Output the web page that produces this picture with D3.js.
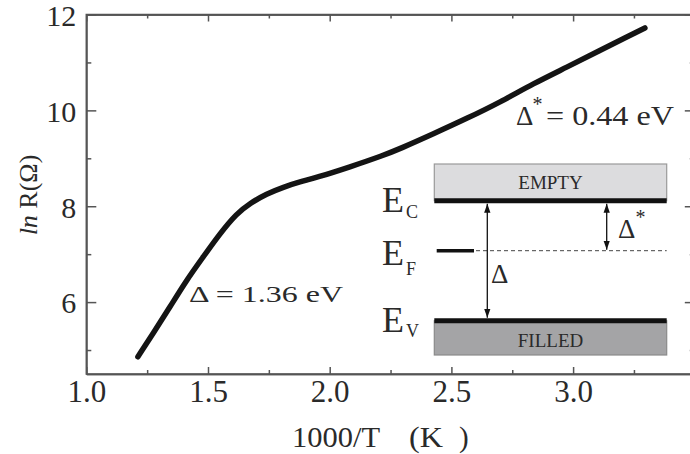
<!DOCTYPE html>
<html>
<head>
<meta charset="utf-8">
<script src="https://cdn.jsdelivr.net/npm/d3@7/dist/d3.min.js"></script>
<style>
  html, body { margin: 0; padding: 0; background: #fff; }
  svg { display: block; }
  text { font-family: "Liberation Serif", "DejaVu Serif", serif; fill: #2a2a2a; }
</style>
</head>
<body>
<svg id="chart" width="690" height="454"></svg>
<script>
// Resistance vs inverse temperature (Arrhenius plot)
const invT = [1.212, 1.275, 1.344, 1.412, 1.48, 1.549, 1.618, 1.672, 1.741, 1.81, 1.878,
              1.947, 2.083, 2.22, 2.289, 2.426, 2.563, 2.70, 2.837, 2.974, 3.11, 3.22, 3.295];
const lnR  = [4.86, 5.35, 5.90, 6.46, 6.94, 7.43, 7.85, 8.06, 8.26, 8.40, 8.51,
              8.60, 8.82, 9.06, 9.20, 9.51, 9.83, 10.17, 10.56, 10.90, 11.25, 11.53, 11.72];

const xMajor = [1.0, 1.5, 2.0, 2.5, 3.0, 3.5];
const xLabeled = [1.0, 1.5, 2.0, 2.5, 3.0];
const xMinor = [1.25, 1.75, 2.25, 2.75, 3.25];
const yMajor = [6, 8, 10, 12];
const yMinor = [5, 7, 9, 11];

const gapLow = "Δ = 1.36 eV";
const gapHigh = "= 0.44 eV";

const svg = d3.select("#chart");
const axisColor = "#555";
const serif = '"Liberation Serif", "DejaVu Serif", serif';

const x = d3.scaleLinear().domain([1.0, 3.5]).range([86.3, 694.8]);
const y = d3.scaleLinear().domain([4.5, 12]).range([374, 14.5]);

function styleAxis(g) {
  g.selectAll("path, line").attr("stroke", axisColor).attr("stroke-width", 1.5);
  g.selectAll("text").attr("fill", "#2a2a2a").style("font-family", serif);
}

// frame
svg.append("rect")
  .attr("x", x(1.0)).attr("y", y(12))
  .attr("width", x(3.5) - x(1.0)).attr("height", y(4.5) - y(12))
  .attr("fill", "none").attr("stroke", axisColor).attr("stroke-width", 1.5);

// bottom axis
svg.append("g").attr("transform", `translate(0,${y(4.5)})`)
  .call(d3.axisBottom(x).tickValues(xMajor).tickSizeInner(-7).tickSizeOuter(0)
        .tickPadding(6).tickFormat(d => xLabeled.includes(d) ? d3.format(".1f")(d) : ""))
  .call(styleAxis)
  .call(g => g.selectAll("text").style("font-size", "31px"));
svg.append("g").attr("transform", `translate(0,${y(4.5)})`)
  .call(d3.axisBottom(x).tickValues(xMinor).tickSizeInner(-4).tickSizeOuter(0).tickFormat(""))
  .call(styleAxis);

// top axis ticks
svg.append("g").attr("transform", `translate(0,${y(12)})`)
  .call(d3.axisTop(x).tickValues(xMajor).tickSizeInner(-7).tickSizeOuter(0).tickFormat(""))
  .call(styleAxis);
svg.append("g").attr("transform", `translate(0,${y(12)})`)
  .call(d3.axisTop(x).tickValues(xMinor).tickSizeInner(-4).tickSizeOuter(0).tickFormat(""))
  .call(styleAxis);

// left axis
svg.append("g").attr("transform", `translate(${x(1.0)},0)`)
  .call(d3.axisLeft(y).tickValues(yMajor).tickSizeInner(-10).tickSizeOuter(0)
        .tickPadding(10).tickFormat(d3.format("d")))
  .call(styleAxis)
  .call(g => g.selectAll("text").style("font-size", "30px").attr("dy", "0.36em"));
svg.append("g").attr("transform", `translate(${x(1.0)},0)`)
  .call(d3.axisLeft(y).tickValues(yMinor).tickSizeInner(-5).tickSizeOuter(0).tickFormat(""))
  .call(styleAxis);

// right axis ticks
svg.append("g").attr("transform", `translate(${x(3.5)},0)`)
  .call(d3.axisRight(y).tickValues(yMajor).tickSizeInner(-10).tickSizeOuter(0).tickFormat(""))
  .call(styleAxis);
svg.append("g").attr("transform", `translate(${x(3.5)},0)`)
  .call(d3.axisRight(y).tickValues(yMinor).tickSizeInner(-5).tickSizeOuter(0).tickFormat(""))
  .call(styleAxis);

// x-axis title, set as three spaced pieces
[["1000/T", 292, 88], ["(K", 409, 34], [")", 459, null]].forEach(([s, xp, len]) => {
  const t = svg.append("text").attr("x", xp).attr("y", 447).style("font-size", "29px").text(s);
  if (len) t.attr("textLength", len).attr("lengthAdjust", "spacingAndGlyphs");
});

const yTitle = svg.append("text")
  .attr("transform", "translate(37,195) rotate(-90)")
  .attr("text-anchor", "middle")
  .style("font-size", "26px");
yTitle.append("tspan").style("font-style", "italic").text("ln");
yTitle.append("tspan").text(" R(Ω)");

// measured curve
const pts = invT.map((v, i) => [v, lnR[i]]);
svg.append("path")
  .datum(pts)
  .attr("fill", "none")
  .attr("stroke", "#141414")
  .attr("stroke-width", 5.5)
  .attr("stroke-linecap", "round")
  .attr("stroke-linejoin", "round")
  .attr("d", d3.line().x(d => x(d[0])).y(d => y(d[1])).curve(d3.curveBasis));

// activation energy labels
svg.append("text")
  .attr("x", 189).attr("y", 302)
  .attr("textLength", 154).attr("lengthAdjust", "spacingAndGlyphs")
  .style("font-size", "24px")
  .text(gapLow);

const hi = svg.append("text").attr("x", 516).attr("y", 125).style("font-size", "27px");
hi.append("tspan").text("Δ");
hi.append("tspan").attr("dy", -14).attr("dx", -1).style("font-size", "20px").text("*");
svg.append("text").attr("x", 546).attr("y", 125).style("font-size", "27px")
  .attr("textLength", 128).attr("lengthAdjust", "spacingAndGlyphs").text(gapHigh);

// band diagram inset
const bx0 = 434.3, bx1 = 666.7;
const ecY = 200.7, efY = 250.7, evY = 320.8;

svg.append("rect").attr("x", bx0).attr("y", 164).attr("width", bx1 - bx0).attr("height", ecY - 164)
  .attr("fill", "#dcdcde").attr("stroke", "#9a9a9a").attr("stroke-width", 1.2);
svg.append("rect").attr("x", bx0).attr("y", evY).attr("width", bx1 - bx0).attr("height", 355 - evY)
  .attr("fill", "#a4a4a6").attr("stroke", "#8a8a8a").attr("stroke-width", 1.2);

svg.append("line").attr("x1", bx0).attr("x2", bx1).attr("y1", ecY).attr("y2", ecY)
  .attr("stroke", "#111").attr("stroke-width", 5);
svg.append("line").attr("x1", bx0).attr("x2", bx1).attr("y1", evY).attr("y2", evY)
  .attr("stroke", "#111").attr("stroke-width", 5);
svg.append("line").attr("x1", 436.7).attr("x2", 474).attr("y1", efY).attr("y2", efY)
  .attr("stroke", "#111").attr("stroke-width", 3.5);
svg.append("line").attr("x1", 476).attr("x2", bx1).attr("y1", efY).attr("y2", efY)
  .attr("stroke", "#444").attr("stroke-width", 1).attr("stroke-dasharray", "4,3");

svg.append("text").attr("x", (bx0 + bx1) / 2).attr("y", 189).attr("text-anchor", "middle")
  .style("font-size", "19px").attr("fill", "#333").text("EMPTY");
svg.append("text").attr("x", (bx0 + bx1) / 2).attr("y", 347).attr("text-anchor", "middle")
  .style("font-size", "19px").attr("fill", "#333").text("FILLED");

// double-headed arrows
const defs = svg.append("defs");
["start", "end"].forEach(k => {
  defs.append("marker").attr("id", "head-" + k)
    .attr("viewBox", "0 0 10 10").attr("refX", k === "end" ? 10 : 0).attr("refY", 5)
    .attr("markerWidth", 9).attr("markerHeight", 9).attr("markerUnits", "userSpaceOnUse")
    .attr("orient", "auto")
    .append("path")
    .attr("d", k === "end" ? "M0,1.5L10,5L0,8.5Z" : "M10,1.5L0,5L10,8.5Z")
    .attr("fill", "#111");
});
function arrow(xp, ya, yb) {
  svg.append("line").attr("x1", xp).attr("x2", xp).attr("y1", ya).attr("y2", yb)
    .attr("stroke", "#111").attr("stroke-width", 1.3)
    .attr("marker-start", "url(#head-start)").attr("marker-end", "url(#head-end)");
}
arrow(487.3, ecY + 3, evY - 3);
arrow(606.7, ecY + 3, efY - 1);

svg.append("text").attr("x", 491).attr("y", 283).style("font-size", "27px").text("Δ");
const ds = svg.append("text").attr("x", 618).attr("y", 238).style("font-size", "27px");
ds.append("tspan").text("Δ");
ds.append("tspan").attr("dy", -14).style("font-size", "20px").text("*");

// level labels
[["C", 211.7, 217.5], ["F", 265, 275], ["V", 331.7, 337]].forEach(([sub, yb, ys]) => {
  const t = svg.append("text").attr("x", 382).attr("y", yb).style("font-size", "36px");
  t.append("tspan").text("E");
  t.append("tspan").attr("x", 406).attr("y", ys).style("font-size", "18px").text(sub);
});
</script>
</body>
</html>
